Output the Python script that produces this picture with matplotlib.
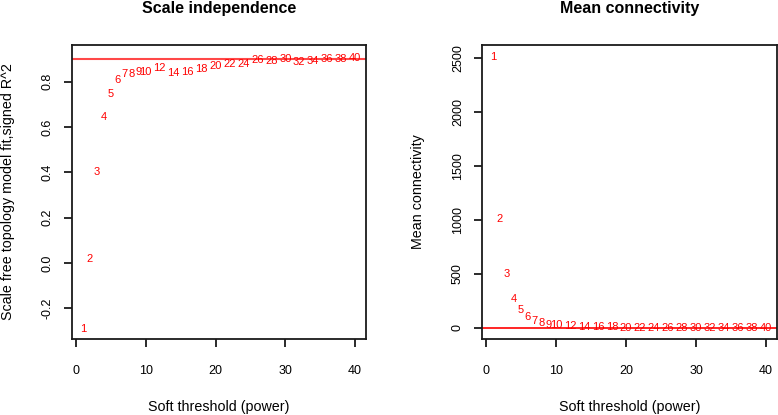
import numpy as np
import matplotlib
matplotlib.use("Agg")
import matplotlib.pyplot as plt

plt.rcParams['font.family'] = ['Liberation Sans', 'DejaVu Sans']

# soft-threshold powers tested
powers = [1, 2, 3, 4, 5, 6, 7, 8, 9, 10, 12, 14, 16, 18, 20,
          22, 24, 26, 28, 30, 32, 34, 36, 38, 40]

# scale free topology fit, signed R^2
sft_r2 = [-0.29, 0.02, 0.40, 0.645, 0.745, 0.807, 0.833, 0.836, 0.845, 0.845,
          0.860, 0.840, 0.843, 0.858, 0.870, 0.877, 0.880, 0.895, 0.892, 0.900,
          0.889, 0.892, 0.900, 0.900, 0.905]

# mean connectivity
mean_k = [2510, 1005, 500, 270, 162, 101, 61, 46, 30, 24,
          15, 9, 6, 4.5, 3.5, 2.8, 2.2, 1.8, 1.5, 1.3,
          1.1, 1.0, 0.9, 0.8, 0.7]

r2_cut = 0.9

W, H = 778, 415
fig = plt.figure(figsize=(W / 100, H / 100), dpi=100)
ax1 = fig.add_axes([72/W, 1 - 339/H, 294/W, 294/H])
ax2 = fig.add_axes([482/W, 1 - 339/H, 295/W, 294/H])

def r_style(ax, title, ylab):
    for s in ax.spines.values():
        s.set_linewidth(1.3)
        s.set_color('#1a1a1a')
    ax.tick_params(direction='out', length=6, width=1.3, labelsize=9,
                   color='#1a1a1a')
    ax.tick_params(axis='x', pad=13)
    ax.tick_params(axis='y', pad=7)
    for lab in ax.get_yticklabels():
        lab.set_rotation(90)
        lab.set_va('center')
    # title placed in figure pixels, like R's outer margin
    bb = ax.get_position()
    fig.text((bb.x0 + bb.x1) / 2, 1 - 9/H, title, fontsize=11.5,
             fontweight='bold', ha='center', va='center')
    ax.set_xlabel('Soft threshold (power)', fontsize=10.3, va='center')
    ax.set_ylabel(ylab, fontsize=10.3, va='center')
    ax.xaxis.set_label_coords(0.5, -68/294)
    ax.yaxis.set_label_coords(-64/294, 0.5)

# scale independence
for p, v in zip(powers, sft_r2):
    ax1.text(p, v, str(p), color='red', fontsize=8, ha='center', va='center')
ax1.axhline(r2_cut, color='#ff4848', lw=1.5)
ax1.set_xlim(-0.56, 41.56)
ax1.set_ylim(-0.335, 0.962)
ax1.set_xticks([0, 10, 20, 30, 40])
ax1.set_yticks([-0.2, 0.0, 0.2, 0.4, 0.6, 0.8])
ax1.set_yticklabels(['-0.2', '0.0', '0.2', '0.4', '0.6', '0.8'])
r_style(ax1, 'Scale independence', 'Scale free topology model fit,signed R^2')

# mean connectivity
for p, v in zip(powers, mean_k):
    ax2.text(p, v, str(p), color='red', fontsize=8, ha='center', va='center')
ax2.axhline(0, color='red', lw=1.2)
ax2.set_xlim(-0.56, 41.56)
ax2.set_ylim(-102, 2620)
ax2.set_xticks([0, 10, 20, 30, 40])
ax2.set_yticks([0, 500, 1000, 1500, 2000, 2500])
r_style(ax2, 'Mean connectivity', 'Mean connectivity')

fig.savefig('out.png', dpi=100)
